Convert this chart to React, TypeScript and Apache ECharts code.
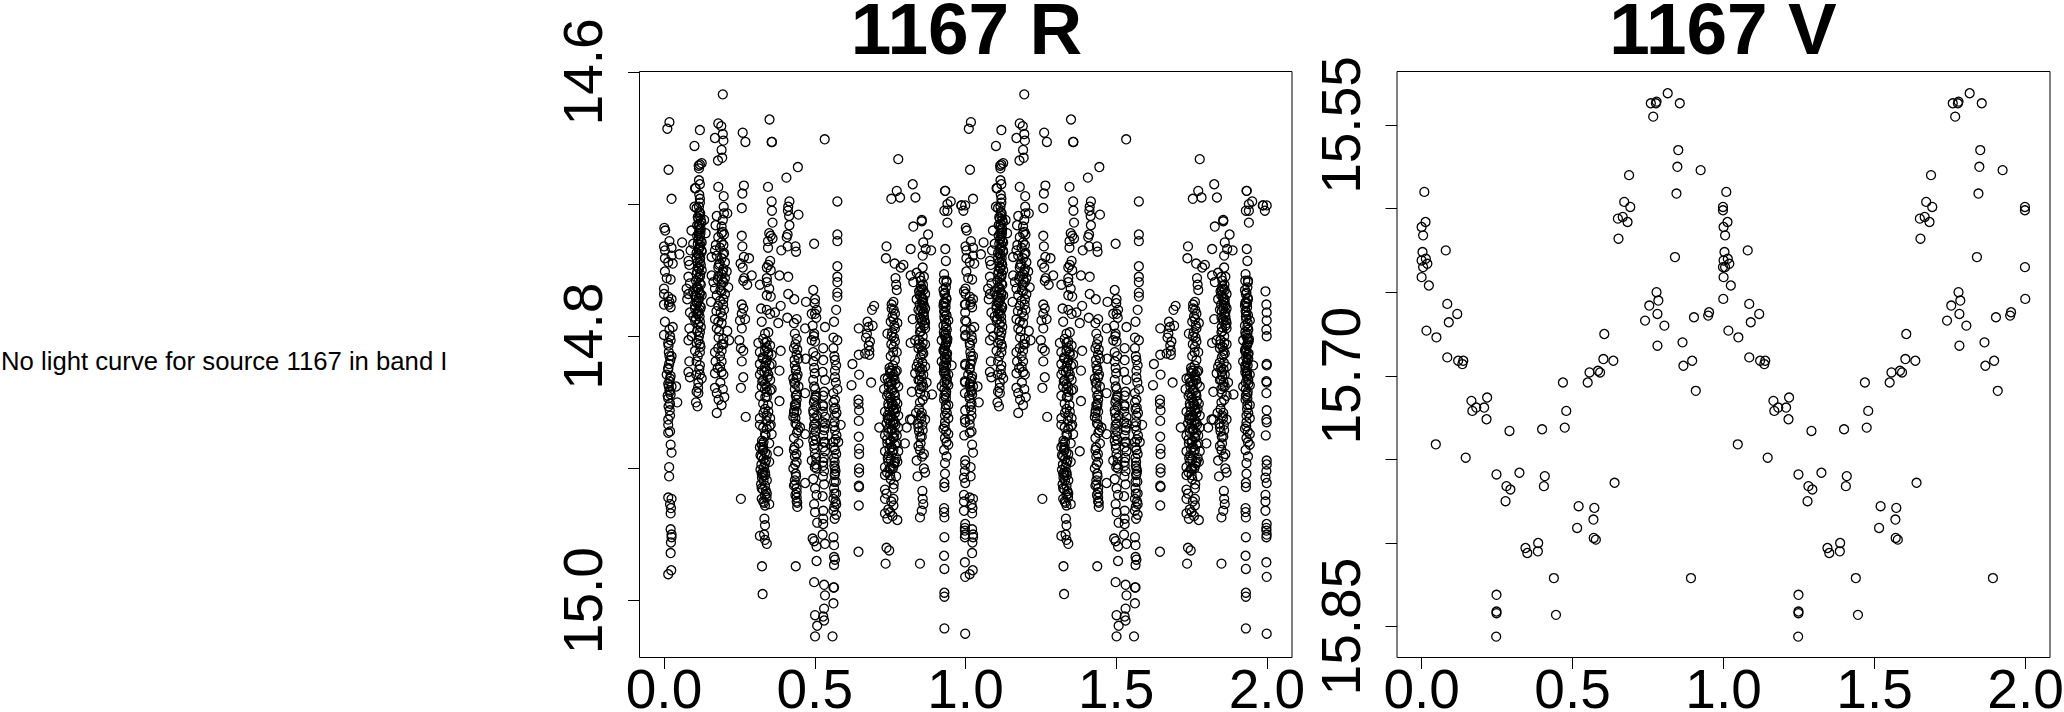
import React, { useEffect, useRef } from "react";
import * as echarts from "echarts";

const FONT = "'Liberation Sans', Arial, sans-serif";
const titleR = "1167 R";
const titleV = "1167 V";
const noCurveText = "No light curve for source 1167 in band I";
const xTicks = [0, 0.5, 1, 1.5, 2];
const rTicks = [14.6, 14.7, 14.8, 14.9, 15.0];
const rLabels = [14.6, 14.8, 15.0];
const vTicks = [15.55, 15.6, 15.65, 15.7, 15.75, 15.8, 15.85];
const vLabels = [15.55, 15.7, 15.85];

// Phase, magnitude pairs for phase 0..1 (the plot shows each point at phase and phase + 1).
const rStripe1 = [[.018,14.638],[.011,14.643],[.015,14.674],[.025,14.696],[.001,14.718],[.004,14.720],[.000,14.732],[.018,14.728],[.003,14.735],[.025,14.733],[.025,14.739],[.051,14.738],[.060,14.729],[.003,14.741],[.014,14.744],[.029,14.745],[.003,14.751],[.022,14.757],[.009,14.756],[.000,14.764],[.000,14.768],[.014,14.770],[.025,14.772],[.018,14.774],[.000,14.776],[.022,14.778],[.003,14.789],[.029,14.793],[.018,14.795],[.000,14.799],[.022,14.803],[.014,14.805],[.015,14.807],[.025,14.815],[.017,14.821],[.014,14.824],[.009,14.829],[.020,14.832],[.014,14.836],[.025,14.838],[.040,14.838],[.018,14.841],[.022,14.844],[.014,14.847],[.044,14.850],[.020,14.851],[.020,14.860],[.014,14.863],[.014,14.867],[.020,14.872],[.014,14.873],[.022,14.882],[.025,14.888],[.017,14.899],[.017,14.906],[.014,14.922],[.025,14.923],[.020,14.927],[.023,14.930],[.022,14.934],[.022,14.946],[.025,14.950],[.025,14.952],[.023,14.956],[.022,14.964],[.024,14.977],[.014,14.980]];
const rStripe2 = [[.119,14.644],[.101,14.656],[.125,14.669],[.119,14.670],[.115,14.671],[.116,14.673],[.116,14.682],[.119,14.685],[.103,14.688],[.105,14.688],[.117,14.693],[.119,14.696],[.119,14.699],[.101,14.702],[.108,14.703],[.117,14.706],[.119,14.709],[.114,14.711],[.122,14.712],[.133,14.712],[.117,14.715],[.115,14.717],[.122,14.719],[.091,14.720],[.115,14.722],[.138,14.722],[.119,14.724],[.114,14.727],[.125,14.729],[.119,14.731],[.097,14.730],[.115,14.734],[.088,14.735],[.125,14.736],[.117,14.739],[.108,14.741],[.081,14.743],[.084,14.746],[.119,14.744],[.114,14.748],[.125,14.750],[.108,14.753],[.081,14.755],[.119,14.755],[.086,14.760],[.075,14.764],[.119,14.760],[.114,14.765],[.081,14.768],[.108,14.770],[.125,14.769],[.077,14.772],[.108,14.774],[.119,14.777],[.103,14.779],[.086,14.782],[.114,14.783],[.119,14.789],[.103,14.788],[.084,14.794],[.119,14.797],[.081,14.803],[.114,14.803],[.092,14.800],[.119,14.806],[.103,14.811],[.119,14.812],[.084,14.819],[.108,14.819],[.119,14.822],[.081,14.827],[.086,14.831],[.119,14.829],[.125,14.832],[.114,14.835],[.108,14.842],[.114,14.843],[.106,14.850],[.111,14.853],[.108,14.763],[.119,14.768],[.097,14.766],[.114,14.773],[.103,14.777],[.119,14.780],[.108,14.783],[.097,14.785]];
const rStripe3 = [[.195,14.617],[.180,14.639],[.190,14.641],[.195,14.647],[.169,14.650],[.197,14.652],[.191,14.659],[.193,14.665],[.179,14.667],[.180,14.687],[.198,14.694],[.198,14.702],[.210,14.707],[.199,14.707],[.175,14.709],[.195,14.712],[.171,14.716],[.191,14.717],[.195,14.721],[.180,14.725],[.199,14.723],[.191,14.729],[.172,14.731],[.169,14.735],[.197,14.731],[.199,14.737],[.175,14.739],[.158,14.740],[.191,14.741],[.202,14.744],[.180,14.748],[.197,14.749],[.208,14.751],[.191,14.753],[.158,14.754],[.180,14.755],[.202,14.756],[.164,14.759],[.197,14.759],[.213,14.763],[.169,14.764],[.191,14.766],[.175,14.769],[.197,14.772],[.156,14.774],[.180,14.777],[.199,14.780],[.169,14.787],[.180,14.789],[.191,14.790],[.175,14.794],[.210,14.796],[.197,14.802],[.216,14.803],[.180,14.809],[.191,14.811],[.169,14.812],[.171,14.819],[.191,14.819],[.169,14.828],[.191,14.827],[.197,14.829],[.169,14.839],[.195,14.840],[.175,14.843],[.200,14.846],[.191,14.852],[.175,14.858]];
const rStripe4 = [[.261,14.646],[.270,14.653],[.265,14.686],[.260,14.692],[.258,14.703],[.258,14.724],[.260,14.732],[.265,14.740],[.282,14.741],[.254,14.745],[.261,14.748],[.266,14.756],[.291,14.754],[.263,14.758],[.276,14.761],[.258,14.776],[.263,14.779],[.258,14.783],[.269,14.787],[.252,14.788],[.258,14.794],[.250,14.803],[.255,14.809],[.263,14.811],[.258,14.819],[.263,14.831],[.255,14.839],[.271,14.861],[.255,14.923]];
const rStripe5 = [[.350,14.636],[.358,14.653],[.357,14.653],[.345,14.687],[.357,14.698],[.358,14.705],[.360,14.714],[.349,14.722],[.354,14.724],[.360,14.726],[.345,14.728],[.345,14.733],[.352,14.743],[.346,14.746],[.341,14.748],[.354,14.750],[.341,14.756],[.383,14.754],[.318,14.761],[.341,14.759],[.349,14.764],[.341,14.769],[.354,14.770],[.387,14.777],[.322,14.779],[.341,14.780],[.352,14.783],[.368,14.782],[.324,14.789],[.379,14.790],[.335,14.798],[.346,14.797],[.313,14.805],[.341,14.804],[.352,14.807],[.318,14.812],[.335,14.811],[.357,14.814],[.387,14.811],[.318,14.821],[.341,14.818],[.357,14.821],[.318,14.829],[.341,14.826],[.383,14.826],[.329,14.833],[.352,14.833],[.335,14.840],[.357,14.840],[.318,14.845],[.341,14.846],[.383,14.849],[.335,14.855],[.346,14.857],[.318,14.862],[.352,14.862],[.318,14.867],[.354,14.867],[.335,14.874],[.357,14.874],[.349,14.881],[.324,14.882],[.329,14.886],[.341,14.889],[.379,14.887],[.324,14.891],[.335,14.896],[.349,14.895],[.329,14.802],[.341,14.809],[.327,14.816],[.346,14.814],[.335,14.823],[.324,14.826],[.346,14.829],[.335,14.836],[.324,14.838],[.341,14.842],[.329,14.851],[.341,14.860],[.329,14.869],[.341,14.870],[.329,14.884],[.324,14.904],[.335,14.903],[.341,14.909],[.324,14.915],[.341,14.919],[.324,14.923],[.335,14.928],[.349,14.927],[.333,14.938],[.335,14.943],[.318,14.951],[.332,14.950],[.335,14.954],[.341,14.957],[.325,14.974],[.327,14.995],[.329,14.905],[.335,14.920],[.329,14.925],[.338,14.917]];
const rStripe6 = [[.406,14.680],[.444,14.672],[.416,14.698],[.412,14.702],[.411,14.705],[.415,14.709],[.416,14.716],[.446,14.708],[.410,14.723],[.407,14.725],[.410,14.732],[.436,14.732],[.438,14.736],[.389,14.735],[.412,14.755],[.412,14.768],[.432,14.772],[.471,14.774],[.409,14.786],[.440,14.787],[.431,14.790],[.468,14.794],[.434,14.798],[.440,14.802],[.431,14.809],[.440,14.814],[.446,14.817],[.470,14.817],[.434,14.822],[.440,14.831],[.429,14.832],[.446,14.838],[.468,14.843],[.437,14.845],[.434,14.852],[.440,14.857],[.429,14.861],[.440,14.867],[.451,14.869],[.468,14.874],[.431,14.877],[.446,14.881],[.431,14.886],[.434,14.891],[.440,14.895],[.429,14.900],[.437,14.904],[.434,14.909],[.431,14.913],[.468,14.911],[.440,14.918],[.440,14.922],[.440,14.925],[.442,14.929],[.437,14.974],[.437,14.826],[.432,14.835],[.440,14.848],[.436,14.862],[.445,14.871]];
const rStripe7 = [[.533,14.651],[.498,14.730],[.495,14.765],[.501,14.772],[.506,14.780],[.490,14.783],[.501,14.783],[.493,14.792],[.498,14.798],[.534,14.793],[.528,14.809],[.490,14.803],[.501,14.804],[.495,14.812],[.495,14.819],[.528,14.818],[.498,14.824],[.526,14.827],[.495,14.833],[.534,14.833],[.501,14.840],[.528,14.845],[.504,14.846],[.495,14.856],[.528,14.853],[.534,14.861],[.498,14.867],[.534,14.866],[.528,14.875],[.495,14.879],[.528,14.884],[.501,14.889],[.490,14.894],[.534,14.887],[.528,14.898],[.506,14.900],[.500,14.775],[.505,14.786],[.497,14.800],[.503,14.815],[.500,14.828],[.497,14.850],[.499,14.862],[.503,14.872],[.499,14.885],[.531,14.842],[.526,14.865],[.530,14.892],[.495,14.908],[.531,14.912],[.501,14.915],[.506,14.920],[.526,14.921],[.498,14.927],[.501,14.933],[.528,14.932],[.528,14.938],[.508,14.941],[.528,14.942],[.526,14.950],[.493,14.953],[.498,14.955],[.506,14.959],[.534,14.957],[.506,14.970],[.498,14.986],[.531,14.988],[.534,14.996],[.531,15.006],[.501,15.011],[.528,15.012],[.531,15.015],[.508,15.019],[.501,15.027],[.559,15.027]];
const rStripe8 = [[.575,14.698],[.575,14.723],[.575,14.728],[.575,14.747],[.575,14.755],[.575,14.759],[.575,14.767],[.575,14.770],[.571,14.780],[.564,14.789],[.562,14.801],[.575,14.803],[.562,14.809],[.567,14.818],[.571,14.822],[.567,14.826],[.567,14.831],[.575,14.840],[.562,14.843],[.567,14.848],[.564,14.855],[.567,14.860],[.586,14.867],[.567,14.871],[.562,14.880],[.578,14.880],[.567,14.886],[.564,14.892],[.567,14.900],[.565,14.815],[.570,14.835],[.566,14.865],[.572,14.875],[.566,14.895],[.567,14.904],[.564,14.910],[.571,14.919],[.562,14.923],[.571,14.927],[.562,14.932],[.562,14.952],[.564,14.958],[.564,14.967],[.567,14.969],[.564,14.973],[.562,14.990],[.564,14.990],[.562,15.002]];
const rStripe9 = [[.697,14.777],[.690,14.780],[.646,14.794],[.675,14.789],[.692,14.792],[.678,14.793],[.670,14.801],[.683,14.804],[.681,14.811],[.667,14.813],[.681,14.814],[.646,14.814],[.625,14.821],[.647,14.829],[.687,14.835],[.622,14.837],[.645,14.848],[.645,14.851],[.647,14.856],[.646,14.864],[.646,14.876],[.647,14.885],[.647,14.889],[.647,14.900],[.714,14.869],[.673,14.798],[.679,14.807],[.647,14.903],[.646,14.913],[.647,14.914],[.646,14.928],[.645,14.963]];
const rStripe11 = [[.777,14.666],[.772,14.690],[.783,14.695],[.754,14.696],[.738,14.732],[.736,14.741],[.765,14.745],[.794,14.746],[.785,14.748],[.768,14.756],[.770,14.761],[.772,14.765],[.761,14.774],[.755,14.779],[.766,14.783],[.761,14.787],[.774,14.790],[.766,14.794],[.741,14.798],[.755,14.800],[.766,14.804],[.761,14.808],[.772,14.812],[.766,14.818],[.750,14.826],[.772,14.826],[.733,14.832],[.761,14.831],[.730,14.840],[.755,14.836],[.777,14.838],[.744,14.843],[.766,14.845],[.755,14.850],[.774,14.851],[.733,14.857],[.761,14.856],[.777,14.860],[.744,14.863],[.766,14.865],[.755,14.871],[.777,14.869],[.733,14.875],[.761,14.877],[.741,14.881],[.772,14.881],[.733,14.887],[.761,14.886],[.777,14.887],[.744,14.895],[.766,14.895],[.733,14.899],[.759,14.900],[.774,14.895],[.750,14.828],[.760,14.822],[.745,14.835],[.755,14.840],[.765,14.833],[.750,14.846],[.760,14.852],[.745,14.853],[.770,14.855],[.750,14.861],[.760,14.866],[.745,14.870],[.765,14.873],[.750,14.880],[.755,14.884],[.745,14.890],[.770,14.892],[.740,14.878],[.760,14.812],[.752,14.815],[.768,14.827],[.742,14.860],[.738,14.866],[.772,14.875],[.752,14.893],[.762,14.898],[.748,14.900],[.733,14.905],[.750,14.905],[.770,14.906],[.733,14.916],[.761,14.915],[.733,14.923],[.761,14.923],[.733,14.934],[.741,14.938],[.774,14.939],[.750,14.933],[.761,14.928],[.738,14.960],[.747,14.962],[.735,14.972]];
const rStripe12 = [[.825,14.685],[.834,14.695],[.855,14.712],[.855,14.713],[.827,14.717],[.876,14.723],[.860,14.729],[.818,14.734],[.868,14.734],[.886,14.735],[.858,14.739],[.858,14.748],[.818,14.754],[.838,14.752],[.849,14.755],[.862,14.755],[.827,14.759],[.855,14.764],[.866,14.768],[.838,14.772],[.860,14.775],[.844,14.780],[.866,14.779],[.825,14.787],[.855,14.787],[.866,14.794],[.849,14.797],[.866,14.790],[.818,14.805],[.833,14.803],[.866,14.806],[.844,14.809],[.855,14.814],[.838,14.823],[.866,14.823],[.833,14.828],[.860,14.829],[.844,14.833],[.871,14.835],[.822,14.842],[.860,14.838],[.866,14.845],[.889,14.844],[.849,14.850],[.836,14.858],[.855,14.858],[.816,14.863],[.866,14.863],[.844,14.869],[.805,14.869],[.855,14.876],[.799,14.881],[.849,14.886],[.862,14.889],[.838,14.894],[.862,14.900],[.822,14.863],[.850,14.765],[.856,14.772],[.862,14.785],[.850,14.793],[.858,14.805],[.852,14.830],[.848,14.840],[.856,14.835],[.852,14.860],[.846,14.872],[.857,14.867],[.851,14.881],[.841,14.906],[.866,14.903],[.857,14.917],[.858,14.923],[.860,14.927],[.855,14.932],[.849,14.937],[.849,14.972]];
const rStripe13 = [[.933,14.690],[.932,14.690],[.951,14.698],[.940,14.700],[.930,14.705],[.940,14.705],[.940,14.714],[.933,14.734],[.935,14.743],[.929,14.753],[.937,14.758],[.937,14.759],[.927,14.765],[.937,14.772],[.927,14.777],[.932,14.782],[.943,14.788],[.927,14.792],[.935,14.798],[.921,14.803],[.940,14.802],[.927,14.811],[.937,14.814],[.921,14.819],[.954,14.822],[.932,14.826],[.943,14.829],[.921,14.838],[.943,14.837],[.935,14.847],[.943,14.852],[.932,14.860],[.943,14.862],[.927,14.870],[.943,14.874],[.932,14.877],[.929,14.886],[.943,14.882],[.937,14.891],[.932,14.896],[.935,14.806],[.930,14.812],[.938,14.817],[.933,14.820],[.928,14.827],[.937,14.832],[.930,14.835],[.936,14.842],[.928,14.775],[.936,14.790],[.932,14.904],[.930,14.911],[.930,14.914],[.929,14.930],[.929,14.933],[.930,14.937],[.930,14.952],[.929,14.966],[.930,14.976],[.930,14.994],[.930,14.997],[.930,15.021]];
const rStripe14 = [[.987,14.701],[.993,14.705],[.986,14.701],[.999,14.701],[.998,14.776],[.999,14.782],[.999,14.788],[.998,14.795],[.999,14.800],[.999,14.821],[.999,14.822],[.998,14.834],[.999,14.835],[.999,14.856],[.999,14.865],[.996,14.875],[.999,14.894],[.999,14.897],[.998,14.902],[.999,14.911],[.999,14.942],[.998,14.947],[.999,14.950],[.998,14.952],[.998,14.971],[.999,14.982],[.999,15.025],[.995,14.766],[.998,14.843],[.998,14.863],[.995,14.920],[.995,14.925],[.995,14.932],[.998,14.945],[.995,14.907]];
// Points estimated inside the dark, overlapping parts of the stripes.
const rDenseA = [[.116,14.702],[.120,14.707],[.112,14.710],[.124,14.714],[.110,14.716],[.118,14.719],[.121,14.722],[.110,14.724],[.116,14.726],[.122,14.728],[.112,14.730],[.118,14.733],[.124,14.735],[.108,14.737],[.114,14.738],[.120,14.741],[.112,14.744],[.122,14.746],[.116,14.749],[.110,14.751],[.120,14.753],[.114,14.756],[.106,14.758],[.122,14.761],[.112,14.763],[.118,14.767],[.104,14.769],[.116,14.771],[.110,14.775],[.122,14.778],[.112,14.781],[.118,14.785],[.106,14.787],[.114,14.791],[.122,14.793],[.110,14.796],[.116,14.800],[.108,14.805],[.121,14.808],[.112,14.815],[.117,14.825],[.107,14.829],[.113,14.839],[.185,14.745],[.195,14.751],[.178,14.757],[.190,14.761],[.202,14.768],[.186,14.773],[.174,14.781],[.193,14.785],[.183,14.796],[.197,14.806],[.186,14.815],[.178,14.824],[.187,14.835],[.181,14.848]];
const rDenseB = [[.325,14.879],[.330,14.880],[.318,14.884],[.327,14.886],[.335,14.888],[.320,14.890],[.330,14.893],[.338,14.894],[.323,14.897],[.332,14.899],[.320,14.901],[.328,14.903],[.336,14.905],[.325,14.907],[.330,14.909],[.322,14.912],[.335,14.913],[.328,14.916],[.340,14.922],[.332,14.926],[.335,14.805],[.345,14.812],[.328,14.817],[.338,14.820],[.350,14.822],[.333,14.827],[.344,14.831],[.326,14.834],[.340,14.838],[.352,14.841],[.336,14.846],[.345,14.852],[.330,14.858],[.340,14.864],[.350,14.868],[.337,14.875],[.434,14.840],[.438,14.851],[.432,14.856],[.436,14.866],[.441,14.873],[.433,14.884],[.439,14.889],[.435,14.897],[.438,14.906],[.434,14.912],[.440,14.915],[.436,14.920],[.442,14.926],[.498,14.838],[.503,14.845],[.527,14.852],[.508,14.860],[.531,14.871],[.499,14.875],[.533,14.880],[.505,14.892],[.528,14.895],[.500,14.899],[.566,14.905],[.570,14.910],[.564,14.915],[.569,14.925],[.565,14.929],[.571,14.935],[.566,14.938]];
const rDenseC = [[.748,14.824],[.756,14.826],[.762,14.829],[.742,14.832],[.752,14.834],[.768,14.836],[.746,14.838],[.758,14.841],[.764,14.843],[.740,14.845],[.752,14.848],[.768,14.849],[.744,14.851],[.756,14.853],[.762,14.855],[.748,14.857],[.766,14.858],[.754,14.860],[.742,14.862],[.760,14.863],[.750,14.866],[.768,14.867],[.756,14.870],[.744,14.873],[.762,14.876],[.752,14.879],[.766,14.882],[.748,14.885],[.758,14.888],[.742,14.892],[.764,14.896],[.752,14.900],[.755,14.776],[.762,14.780],[.758,14.785],[.752,14.789],[.764,14.792],[.757,14.797],[.763,14.801],[.754,14.806],[.740,14.903],[.752,14.908],[.762,14.912],[.738,14.919],[.754,14.925],[.744,14.931],[.758,14.936],[.852,14.762],[.860,14.765],[.848,14.769],[.856,14.774],[.862,14.777],[.850,14.781],[.858,14.783],[.864,14.788],[.846,14.803],[.853,14.808],[.860,14.813],[.843,14.820],[.856,14.825],[.850,14.827],[.848,14.833],[.846,14.855],[.854,14.862],[.842,14.866],[.858,14.871],[.850,14.876],[.844,14.883],[.856,14.891],[.934,14.775],[.930,14.785],[.938,14.795],[.930,14.799],[.936,14.802],[.933,14.807],[.928,14.810],[.939,14.813],[.931,14.816],[.936,14.822],[.929,14.824],[.934,14.828],[.938,14.836],[.930,14.845],[.935,14.852],[.932,14.865],[.937,14.880],[.928,14.758],[.935,14.763],[.930,14.768],[.018,14.815],[.014,14.825],[.022,14.830],[.016,14.838],[.020,14.842],[.012,14.845]];
const rDenseD = [[.932,14.767],[.936,14.771],[.930,14.774],[.934,14.778],[.929,14.781],[.937,14.784],[.931,14.787],[.935,14.793],[.928,14.797],[.934,14.801],[.939,14.804],[.931,14.809],[.936,14.818],[.928,14.822],[.933,14.830],[.938,14.833],[.930,14.840],[.935,14.844],[.929,14.848],[.934,14.855],[.938,14.858],[.931,14.868],[.936,14.872],[.852,14.758],[.859,14.761],[.846,14.766],[.853,14.770],[.860,14.772],[.848,14.776],[.855,14.779],[.862,14.782],[.849,14.786],[.856,14.789],[.863,14.792],[.852,14.796],[.858,14.800],[.845,14.806],[.856,14.811],[.850,14.816],[.857,14.820],[.848,14.824],[.854,14.838],[.850,14.843],[.858,14.848],[.436,14.806],[.442,14.810],[.433,14.818],[.438,14.825],[.443,14.829],[.435,14.836],[.441,14.844],[.437,14.853],[.431,14.858],[.499,14.848],[.504,14.853],[.496,14.858],[.502,14.866],[.527,14.857],[.532,14.869],[.497,14.870],[.504,14.878],[.529,14.880],[.498,14.882],[.503,14.897],[.531,14.902],[.527,14.906],[.562,14.850],[.568,14.854],[.572,14.858],[.564,14.868],[.569,14.878],[.563,14.884],[.571,14.889],[.565,14.898],[.569,14.902],[.565,14.919],[.191,14.722],[.186,14.733],[.196,14.738],[.182,14.746],[.192,14.757],[.187,14.765],[.196,14.776],[.188,14.782],[.181,14.801],[.192,14.806],[.186,14.823],[.016,14.776],[.020,14.800],[.016,14.812],[.021,14.818],[.018,14.834],[.015,14.853],[.019,14.856]];

const vPhase = [.009,.013,.000,.005,.003,.014,.000,.019,.005,.000,.024,.016,.049,.080,.085,.090,.118,.085,.121,.138,.135,.165,.181,.168,.207,.217,.215,.047,.146,.248,.281,.294,.278,.324,.291,.399,.408,.405,.474,.479,.468,.344,.350,.386,.385,.248,.248,.248,.247,.438,.445,.520,.515,.572,.569,.570,.577,.550,.556,.584,.591,.602,.605,.635,.639,.652,.650,.666,.682,.691,.671,.687,.740,.754,.778,.784,.781,.804,.781,.759,.776,.778,.767,.815,.855,.850,.847,.844,.839,.864,.867,.896,.908,.902,.952,.949,.924,.892,.998,.998,.998,.999];
const vMag = [15.590,15.608,15.611,15.616,15.626,15.630,15.631,15.633,15.635,15.641,15.646,15.673,15.677,15.625,15.657,15.668,15.663,15.689,15.691,15.691,15.693,15.715,15.719,15.721,15.719,15.713,15.726,15.741,15.749,15.759,15.766,15.768,15.775,15.758,15.733,15.732,15.760,15.766,15.731,15.721,15.704,15.803,15.806,15.800,15.805,15.831,15.841,15.842,15.856,15.821,15.843,15.778,15.791,15.779,15.786,15.797,15.798,15.704,15.698,15.697,15.698,15.690,15.675,15.691,15.764,15.618,15.606,15.605,15.608,15.599,15.596,15.580,15.667,15.658,15.650,15.655,15.663,15.670,15.682,15.537,15.537,15.536,15.545,15.531,15.537,15.565,15.575,15.591,15.629,15.680,15.694,15.691,15.709,15.665,15.662,15.664,15.577,15.821,15.599,15.601,15.635,15.654];

const rPoints = [...rStripe1, ...rStripe2, ...rStripe3, ...rStripe4, ...rStripe5, ...rStripe6, ...rStripe7, ...rStripe8, ...rStripe9, ...rStripe11, ...rStripe12, ...rStripe13, ...rStripe14, ...rDenseA, ...rDenseB, ...rDenseC, ...rDenseD];
const vPoints = vPhase.map((p, i) => [p, vMag[i]]);
const twoCycles = (pts: number[][]) => pts.flatMap(([p, m]) => [[p, m], [p + 1, m]]);

const boxTop = 71.5;
const boxHeight = 586;

function xAxis(gridIndex: number, min: number, max: number) {
  return {
    type: "value", gridIndex, min, max,
    splitLine: { show: false },
    axisLine: { show: false, onZero: false },
    axisTick: { show: true, length: 11.5, customValues: xTicks, lineStyle: { color: "#000", width: 1 } },
    axisLabel: { show: true, customValues: xTicks, margin: 11.5, fontSize: 55, lineHeight: 40, color: "#000", fontFamily: FONT, formatter: (v: number) => v.toFixed(1) },
  };
}
function yAxis(gridIndex: number, min: number, max: number, ticks: number[], labels: number[], digits: number) {
  return {
    type: "value", gridIndex, min, max, inverse: true,
    splitLine: { show: false },
    axisLine: { show: false, onZero: false },
    axisTick: { show: true, length: 11.5, customValues: ticks, lineStyle: { color: "#000", width: 1 } },
    axisLabel: { show: true, customValues: labels, rotate: 90, align: "center", verticalAlign: "bottom", margin: 36.5, fontSize: 55, lineHeight: 40, color: "#000", fontFamily: FONT, formatter: (v: number) => v.toFixed(digits) },
  };
}
function scatter(idx: number, data: number[][]) {
  return {
    type: "scatter", xAxisIndex: idx, yAxisIndex: idx, data, symbol: "circle", symbolSize: 9, silent: true, large: false,
    itemStyle: { color: "transparent", borderColor: "#000", borderWidth: 1.3, opacity: 1 },
  };
}

export default function App() {
  const ref = useRef<HTMLDivElement>(null);
  useEffect(() => {
    const chart = echarts.init(ref.current!, null, { renderer: "svg" });
    chart.setOption({
      animation: false,
      backgroundColor: "#fff",
      title: [
        { text: titleR, left: 966.5, top: 1, padding: 0, textAlign: "center", textStyle: { fontSize: 73, lineHeight: 55, fontWeight: "bold", color: "#000", fontFamily: FONT } },
        { text: titleV, left: 1723, top: 1, padding: 0, textAlign: "center", textStyle: { fontSize: 73, lineHeight: 55, fontWeight: "bold", color: "#000", fontFamily: FONT } },
        { text: noCurveText, left: 1, top: 348, padding: 0, textStyle: { fontSize: 25.7, fontWeight: "normal", color: "#000", fontFamily: FONT } },
      ],
      grid: [
        { left: 639.5, top: boxTop, width: 652.5, height: boxHeight, outerBoundsMode: "none", show: true, borderColor: "#000", borderWidth: 1, backgroundColor: "transparent" },
        { left: 1397, top: boxTop, width: 653, height: boxHeight, outerBoundsMode: "none", show: true, borderColor: "#000", borderWidth: 1, backgroundColor: "transparent" },
      ],
      xAxis: [xAxis(0, -0.0813, 2.083), xAxis(1, -0.0815, 2.081)],
      yAxis: [yAxis(0, 14.5997, 15.043, rTicks, rLabels, 1), yAxis(1, 15.518, 15.8685, vTicks, vLabels, 2)],
      series: [scatter(0, twoCycles(rPoints)), scatter(1, twoCycles(vPoints))],
    });
    return () => chart.dispose();
  }, []);
  return <div ref={ref} style={{ position: "absolute", left: 0, top: 0, width: 2064, height: 712 }} />;
}
